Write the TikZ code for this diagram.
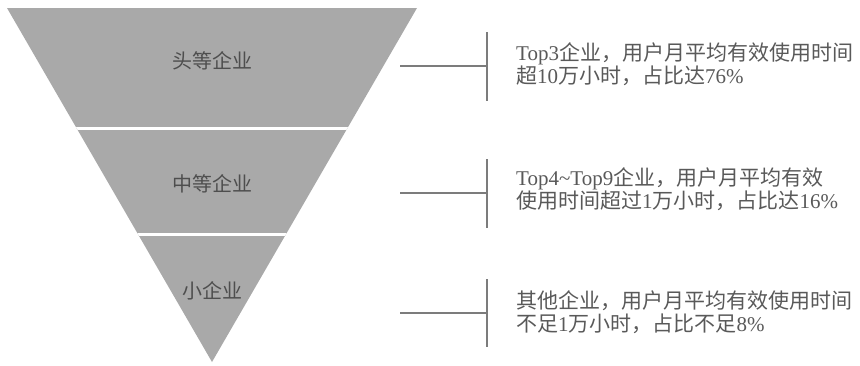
\documentclass[tikz,border=0pt]{standalone}
\usepackage{fontspec}
\setmainfont{Liberation Serif}
\newfontfamily\cjk{Noto Sans CJK SC}
\newcommand{\zh}[1]{{\cjk #1}}
\definecolor{trifill}{HTML}{A9A9A9}
\definecolor{tritext}{HTML}{4E4E4E}
\definecolor{sidetext}{HTML}{595959}
\definecolor{linegray}{HTML}{7C7C7C}
\begin{document}
\begin{tikzpicture}[x=1pt,y=-1pt,
  tierlabel/.style={inner sep=0pt,text=tritext,font=\cjk\fontsize{20}{22}\selectfont},
  sidenote/.style={inner sep=0pt,anchor=west,align=left,text=sidetext,font=\fontsize{21}{23}\selectfont},
  bracket/.style={draw=linegray,line width=1.8pt},
  arm/.style={draw=linegray,line width=1.5pt}]
\useasboundingbox (0,0) rectangle (860,365);
% funnel
\coordinate (tl) at (7,8);
\coordinate (tr) at (417,8);
\coordinate (ap) at (212,362);
\fill[trifill] (tl) -- (tr) -- (ap) -- cycle;
\begin{scope}
  \clip (tl) -- (tr) -- (ap) -- cycle;
  \draw[white,line width=3pt] (0,128) -- (430,128);
  \draw[white,line width=3pt] (0,234) -- (430,234);
\end{scope}
\node[tierlabel] (l1) at (212,61) {头等企业};
\node[tierlabel] (l2) at (212,184) {中等企业};
\node[tierlabel] (l3) at (212,291) {小企业};
% connectors
\coordinate (h1) at (400,66);
\coordinate (b1t) at (487,32);
\coordinate (b1b) at (487,101);
\coordinate (h2) at (400,193);
\coordinate (b2t) at (487,159);
\coordinate (b2b) at (487,228);
\coordinate (h3) at (400,313);
\coordinate (b3t) at (487,279);
\coordinate (b3b) at (487,347);
\draw[bracket] (b1t) -- (b1b);
\draw[arm] (h1) -- (h1 -| b1t);
\draw[bracket] (b2t) -- (b2b);
\draw[arm] (h2) -- (h2 -| b2t);
\draw[bracket] (b3t) -- (b3b);
\draw[arm] (h3) -- (h3 -| b3t);
% notes
\node[sidenote] (t1) at (516,64) {Top3\zh{企业，用户月平均有效使用时间}\\\zh{超}10\zh{万小时，占比达}76\%};
\node[sidenote] (t2) at (516,189) {Top4\textasciitilde Top9\zh{企业，用户月平均有效}\\\zh{使用时间超过}1\zh{万小时，占比达}16\%};
\node[sidenote] (t3) at (516,312) {\zh{其他企业，用户月平均有效使用时间}\\\zh{不足}1\zh{万小时，占比不足}8\%};
\end{tikzpicture}
\end{document}
